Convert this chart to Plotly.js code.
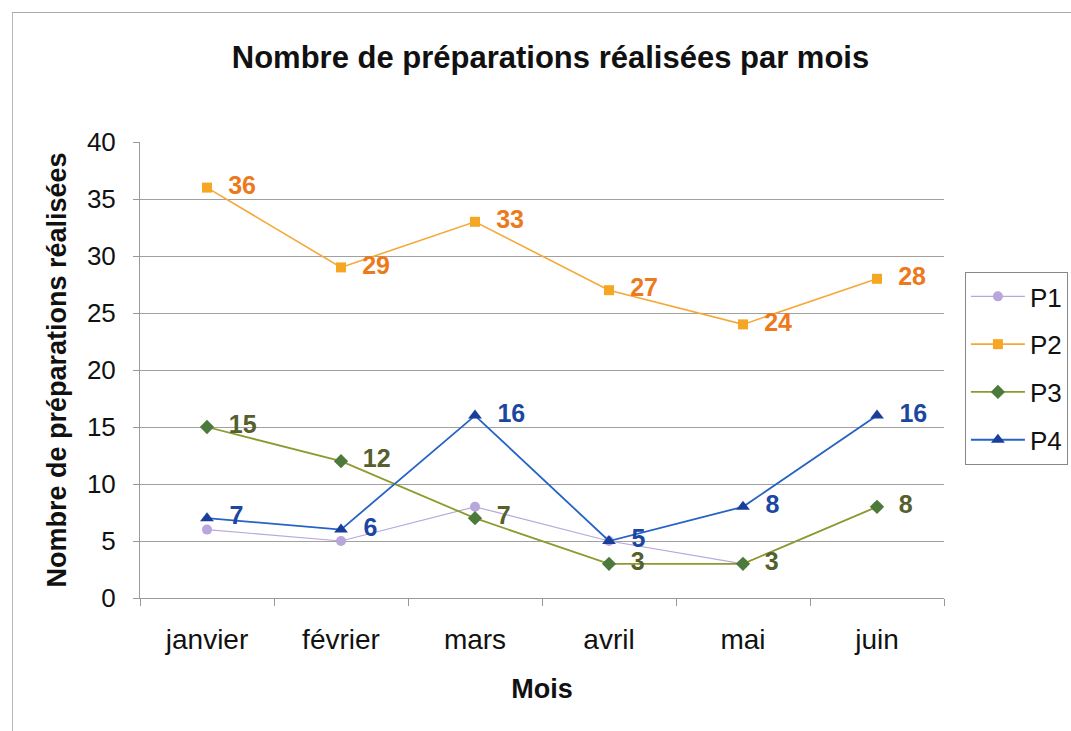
<!DOCTYPE html>
<html>
<head>
<meta charset="utf-8">
<script src="https://cdn.plot.ly/plotly-3.0.1.min.js"></script>
<style>
html,body{margin:0;padding:0;background:#fff;}
#wrap{position:relative;width:1071px;height:731px;overflow:hidden;}
#chart{width:1071px;height:731px;}
#frame{position:absolute;left:12px;top:12px;width:1100px;height:760px;border-left:1.5px solid #b8b8b8;border-top:1.5px solid #a8a8a8;pointer-events:none;}
</style>
</head>
<body>
<div id="wrap"><div id="chart"></div><div id="frame"></div></div>
<script>
const months = ["janvier", "février", "mars", "avril", "mai", "juin"];
const p1 = [6, 5, 8, 5, 3, 8];
const p2 = [36, 29, 33, 27, 24, 28];
const p3 = [15, 12, 7, 3, 3, 8];
const p4 = [7, 6, 16, 5, 8, 16];
const seriesNames = ["P1", "P2", "P3", "P4"];
const yTicks = [0, 5, 10, 15, 20, 25, 30, 35, 40];

const FONT = "Liberation Sans, Arial, sans-serif";
const labelFont = (c) => ({family: FONT, size: 25, color: c, weight: "bold"});
const pad = (v) => "\u00a0\u00a0" + v;

const traces = [
  {
    x: months, y: p1, name: seriesNames[0], mode: "lines+markers",
    line: {color: "#b8a6dc", width: 1.2},
    marker: {symbol: "circle", size: 10, color: "#b8a6dc"},
    legendgroup: "g1"
  },
  {
    x: months, y: p2, name: seriesNames[1], mode: "lines+markers+text",
    text: p2.map(pad), textposition: "middle right",
    textfont: labelFont("#ec7a1c"),
    line: {color: "#f5a838", width: 1.6},
    marker: {symbol: "square", size: 10, color: "#f5a623"},
    legendgroup: "g2"
  },
  {
    x: months, y: p3, name: seriesNames[2], mode: "lines+markers+text",
    text: p3.map(pad), textposition: "middle right",
    textfont: labelFont("#55602e"),
    line: {color: "#8d9a2e", width: 1.8},
    marker: {symbol: "diamond", size: 11, color: "#4c7a3a"},
    legendgroup: "g3"
  },
  {
    x: months, y: p4, name: seriesNames[3], mode: "lines+markers+text",
    text: p4.map(pad), textposition: "middle right",
    textfont: labelFont("#1b47a0"),
    line: {color: "#2563c4", width: 1.8},
    marker: {symbol: "triangle-up", size: 12, color: "#1a3f9a"},
    legendgroup: "g4"
  }
];

const layout = {
  width: 1071, height: 731,
  margin: {l: 140, r: 127, t: 142, b: 133, autoexpand: false},
  paper_bgcolor: "#ffffff", plot_bgcolor: "#ffffff",
  font: {family: FONT, color: "#111"},
  title: {
    text: "Nombre de préparations réalisées par mois",
    font: {family: FONT, size: 31, color: "#111", weight: "bold"},
    x: 0.514, xanchor: "center", y: 0.922, yanchor: "middle"
  },
  xaxis: {
    type: "category",
    tickson: "boundaries", ticks: "outside", ticklen: 7, tickcolor: "#999",
    showline: true, linecolor: "#999", linewidth: 1,
    showgrid: false, zeroline: false,
    tickfont: {family: FONT, size: 28, color: "#111"},
    ticklabelstandoff: 16,
    title: {text: "Mois", font: {family: FONT, size: 27, color: "#111", weight: "bold"}, standoff: 25},
    range: [-0.5, 5.5]
  },
  yaxis: {
    range: [0, 40], tickvals: yTicks,
    ticks: "outside", ticklen: 6, tickcolor: "#999",
    showline: true, linecolor: "#999", linewidth: 1,
    showgrid: true, gridcolor: "#a0a0a0", gridwidth: 1,
    zeroline: false,
    tickfont: {family: FONT, size: 26, color: "#111"},
    ticklabelstandoff: 12,
    title: {text: "Nombre de préparations réalisées", font: {family: FONT, size: 27, color: "#111", weight: "bold"}, standoff: 12}
  },
  showlegend: true,
  legend: {
    x: 1.026, xanchor: "left", y: 0.715, yanchor: "top",
    bordercolor: "#888", borderwidth: 1, bgcolor: "#fff",
    font: {family: FONT, size: 26, color: "#111"},
    traceorder: "grouped", tracegroupgap: 11,
    itemwidth: 54
  }
};

Plotly.newPlot("chart", traces, layout, {displayModeBar: false, staticPlot: true});
</script>
</body>
</html>
